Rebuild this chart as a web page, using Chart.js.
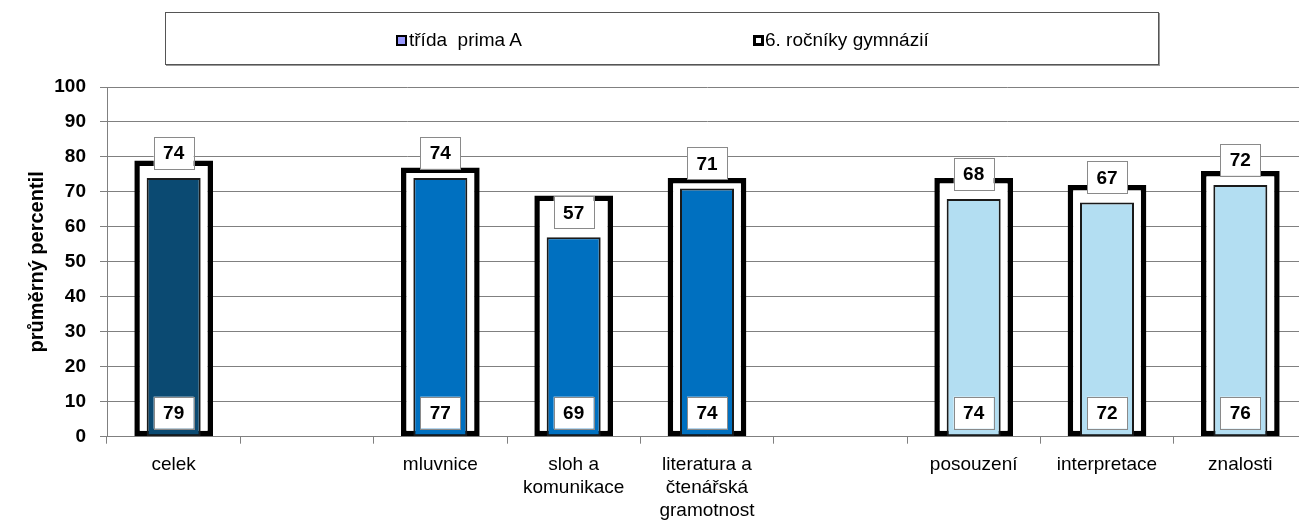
<!DOCTYPE html>
<html>
<head>
<meta charset="utf-8">
<script src="https://cdn.jsdelivr.net/npm/chart.js@4"></script>
<style>
  html, body { margin: 0; padding: 0; background: #fff; overflow: hidden; width: 1299px; height: 520px; }
  #wrap { position: absolute; left: 0; top: 0; width: 1310px; height: 520px; }
  #legend { position: absolute; left: 165px; top: 12px; width: 992px; height: 51px; border: 1px solid #555; box-shadow: 1px 1px 0 #999; background: #fff; }
  .item { position: absolute; top: 0; height: 51px; font: 19px "Liberation Sans", Arial, sans-serif; line-height: 53px; color: #000; white-space: pre; }
  .mark { position: absolute; width: 11px; height: 11px; box-sizing: border-box; top: 22px; }
</style>
</head>
<body>
<div id="wrap"><canvas id="chart"></canvas></div>
<div id="legend"></div>
<script>
// categories (empty strings are gaps between groups)
const categories = ['celek', '', 'mluvnice', ['sloh a', 'komunikace'], ['literatura a', 'čtenářská', 'gramotnost'], '', 'posouzení', 'interpretace', 'znalosti'];
const seriesNames = ['třída  prima A', '6. ročníky gymnázií'];
const classValues = [74, null, 74, 57, 71, null, 68, 67, 72];
const gymValues = [79, null, 77, 69, 74, null, 74, 72, 76];
const classColors = ['#0B4A72', null, '#0070C0', '#0070C0', '#0070C0', null, '#B3DEF2', '#B3DEF2', '#B3DEF2'];
const yTicks = [0, 10, 20, 30, 40, 50, 60, 70, 80, 90, 100];

const FONT = '"Liberation Sans", Arial, sans-serif';

// legend (html)
const legend = document.getElementById('legend');
const legendPos = [{ mark: 230, text: 243, fill: '#9999FF', border: '2px solid #000' },
                   { mark: 587, text: 599, fill: '#fff', border: '3px solid #000' }];
seriesNames.forEach((name, i) => {
  const m = document.createElement('div');
  m.className = 'mark';
  m.style.left = legendPos[i].mark + 'px';
  m.style.background = legendPos[i].fill;
  m.style.border = legendPos[i].border;
  legend.appendChild(m);
  const t = document.createElement('div');
  t.className = 'item';
  t.style.left = legendPos[i].text + 'px';
  t.textContent = name;
  legend.appendChild(t);
});

// value boxes: class value above the inner bar, gymnasium value at the base
const boxLabels = {
  id: 'boxLabels',
  afterDatasetsDraw(chart) {
    const ctx = chart.ctx;
    const inner = chart.getDatasetMeta(1).data;
    const base = chart.scales.y.getPixelForValue(0);
    ctx.save();
    ctx.font = 'bold 19px ' + FONT;
    ctx.textAlign = 'center';
    ctx.textBaseline = 'middle';
    const box = (x, bottom, txt) => {
      const w = 40, h = 32;
      ctx.fillStyle = '#fff';
      ctx.fillRect(x - w / 2, bottom - h, w, h);
      ctx.strokeStyle = '#8a8a8a';
      ctx.lineWidth = 1;
      ctx.strokeRect(Math.round(x - w / 2) + 0.5, Math.round(bottom - h) + 0.5, w, h);
      ctx.fillStyle = '#000';
      ctx.fillText(txt, x, bottom - h / 2 + 1);
    };
    categories.forEach((c, i) => {
      if (classValues[i] == null) return;
      const bar = inner[i];
      box(bar.x, bar.y - 9, String(classValues[i]));
      box(bar.x, base - 8, String(gymValues[i]));
    });
    ctx.restore();
  }
};

new Chart(document.getElementById('chart'), {
  type: 'bar',
  data: {
    labels: categories,
    datasets: [
      {
        label: seriesNames[1],
        data: gymValues,
        backgroundColor: '#fff',
        borderColor: '#000',
        borderWidth: 5.5,
        borderSkipped: false,
        barPercentage: 0.59,
        categoryPercentage: 1,
        grouped: false,
        order: 2
      },
      {
        label: seriesNames[0],
        data: classValues,
        backgroundColor: classColors,
        borderColor: '#1a1a1a',
        borderWidth: 2,
        borderSkipped: false,
        barPercentage: 0.405,
        categoryPercentage: 1,
        grouped: false,
        order: 1
      }
    ]
  },
  options: {
    responsive: true,
    maintainAspectRatio: false,
    animation: false,
    layout: { padding: { top: 87, right: 3, bottom: 0, left: 0 } },
    plugins: {
      legend: { display: false },
      tooltip: { enabled: false }
    },
    scales: {
      x: {
        offset: true,
        grid: { offset: true, drawOnChartArea: false, drawTicks: true, tickLength: 7, color: '#808080' },
        border: { color: '#808080' },
        ticks: { color: '#000', font: { family: FONT, size: 19, lineHeight: 1.22 }, padding: 9, maxRotation: 0, autoSkip: false },
        afterFit: s => { s.height = 83.3; }
      },
      y: {
        min: 0,
        max: 100,
        afterBuildTicks: s => { s.ticks = yTicks.map(v => ({ value: v })); },
        grid: { color: '#808080', tickLength: 7 },
        border: { color: '#808080' },
        ticks: { color: '#000', font: { family: FONT, size: 19, weight: 'bold' }, padding: 14 },
        title: { display: true, text: 'průměrný percentil', color: '#000', font: { family: FONT, size: 20, weight: 'bold' }, padding: { top: 25, bottom: 0 } },
        afterFit: s => { s.width = 107; }
      }
    }
  },
  plugins: [boxLabels]
});
</script>
</body>
</html>
